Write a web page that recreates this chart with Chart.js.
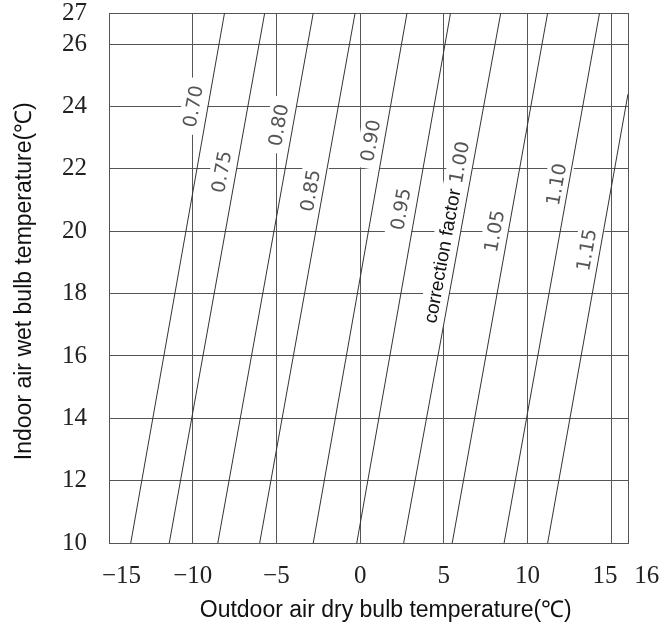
<!DOCTYPE html>
<html>
<head>
<meta charset="utf-8">
<title>Correction factor chart</title>
<script src="https://cdn.jsdelivr.net/npm/chart.js@4.4.1/dist/chart.umd.min.js"></script>
<style>
  html, body { margin: 0; padding: 0; background: #fff; }
</style>
</head>
<body>
<canvas id="myChart" width="664" height="628"></canvas>
<script>
const factors   = ['0.70', '0.75', '0.80', '0.85', '0.90', '0.95', '1.00', '1.05', '1.10', '1.15'];
const xAtBottom = [-13.7, -11.4, -8.5, -6.0, -2.8, -0.2, 2.6, 5.5, 8.6, 11.2];
const yAtBottom = [10, 10, 10, 10, 10, 10, 10, 10, 10, 10];
const xAtTop    = [-8.1, -5.7, -2.8, -0.3, 2.8, 5.4, 8.4, 11.2, 14.3, 16.0];
const yAtTop    = [27, 27, 27, 27, 27, 27, 27, 27, 27, 24.4];

// where the factor labels sit (data units)
const labelX = [-9.9, -8.2, -4.8, -2.9, 0.7, 2.5, 6.0, 8.1, 11.8, 13.6];
const labelY = [24.0, 21.9, 23.4, 21.3, 22.9, 20.7, 22.2, 20.0, 21.5, 19.4];
const noteText = 'correction factor';
const noteX = 4.96;
const noteY = 19.2;

const xTicks = [-15, -10, -5, 0, 5, 10, 15, 16];
const yTicks = [10, 12, 14, 16, 18, 20, 22, 24, 26, 27];

function labelAngle(chart, i) {
    let xs = chart.scales.x, ys = chart.scales.y;
    let x0 = xs.getPixelForValue(xAtBottom[i]), y0 = ys.getPixelForValue(yAtBottom[i]);
    let x1 = xs.getPixelForValue(xAtTop[i]), y1 = ys.getPixelForValue(yAtTop[i]);
    return Math.atan2(y1 - y0, x1 - x0);
}

function drawOne(ctx, text, px, py, angle, font, color, box) {
    ctx.save();
    ctx.translate(px, py);
    ctx.rotate(angle);
    ctx.font = font;
    let w = ctx.measureText(text).width;
    if (box) {
        ctx.fillStyle = '#fff';
        ctx.fillRect(-w / 2 - 7, -13, w + 14, 26);
    } else {
        ctx.fillStyle = color;
        ctx.textAlign = 'center';
        ctx.textBaseline = 'middle';
        ctx.fillText(text, 0, 0);
    }
    ctx.restore();
}

function drawLabels(chart, box) {
    let ctx = chart.ctx;
    let xs = chart.scales.x, ys = chart.scales.y;
    for (let i = 0; i < factors.length; i++) {
        drawOne(ctx, factors[i], xs.getPixelForValue(labelX[i]), ys.getPixelForValue(labelY[i]),
            labelAngle(chart, i), '19px "DejaVu Sans"', '#555', box);
    }
    drawOne(ctx, noteText, xs.getPixelForValue(noteX), ys.getPixelForValue(noteY),
        labelAngle(chart, 6), '19px "Liberation Sans"', '#111', box);
}

const factorLabels = {
    id: 'factorLabels',
    beforeDatasetsDraw(chart) { drawLabels(chart, true); },
    afterDatasetsDraw(chart) { drawLabels(chart, false); }
};

function xLabel(v) {
    let s = v < 0 ? '\u2212' + Math.abs(v) : String(v);
    // the original prints the end labels a little off their grid lines
    if (v === -15) return '\u2002\u2002' + s;
    if (v === 15) return s + '\u2002';
    if (v === 16) return '\u2002\u2002\u2002' + s;
    return s;
}

const datasets = factors.map((f, i) => ({
    label: f,
    data: [{x: xAtBottom[i], y: yAtBottom[i]}, {x: xAtTop[i], y: yAtTop[i]}],
    showLine: true,
    borderColor: '#333',
    borderWidth: 1,
    pointRadius: 0,
    fill: false
}));

window.ctx = new Chart(document.getElementById('myChart'), {
    type: 'scatter',
    data: { datasets: datasets },
    plugins: [factorLabels],
    options: {
        responsive: false,
        animation: false,
        devicePixelRatio: 1,
        layout: { padding: { top: 13, right: 36, bottom: 0, left: 0 } },
        plugins: {
            legend: { display: false },
            tooltip: { enabled: false }
        },
        scales: {
            x: {
                type: 'linear',
                min: -15,
                max: 16,
                afterBuildTicks: s => { s.ticks = xTicks.map(v => ({ value: v })); },
                afterFit: s => { s.height = 85; s.paddingLeft = 0; s.paddingRight = 0; },
                grid: { color: '#555', lineWidth: 1, drawTicks: false },
                border: { color: '#555' },
                ticks: {
                    autoSkip: false,
                    maxRotation: 0,
                    padding: 21,
                    color: '#222',
                    font: { family: '"Liberation Serif"', size: 25, lineHeight: 1 },
                    callback: xLabel
                },
                title: {
                    display: true,
                    text: '\u2002\u2002\u2002Outdoor air dry bulb temperature(\u2103)',
                    color: '#111',
                    font: { family: '"Liberation Sans"', size: 23 },
                    padding: { top: 0, bottom: 4 }
                }
            },
            y: {
                type: 'linear',
                min: 10,
                max: 27,
                afterBuildTicks: s => { s.ticks = yTicks.map(v => ({ value: v })); },
                afterFit: s => { s.width = 109; s.paddingTop = 0; s.paddingBottom = 0; },
                grid: { color: '#555', lineWidth: 1, drawTicks: false },
                border: { color: '#555' },
                ticks: {
                    padding: 22,
                    color: '#222',
                    font: { family: '"Liberation Serif"', size: 25, lineHeight: 1 }
                },
                title: {
                    display: true,
                    text: 'Indoor air wet bulb temperature(\u2103) ',
                    color: '#111',
                    font: { family: '"Liberation Sans"', size: 23 },
                    padding: { top: 11, bottom: 0 }
                }
            }
        }
    }
});
</script>
</body>
</html>
